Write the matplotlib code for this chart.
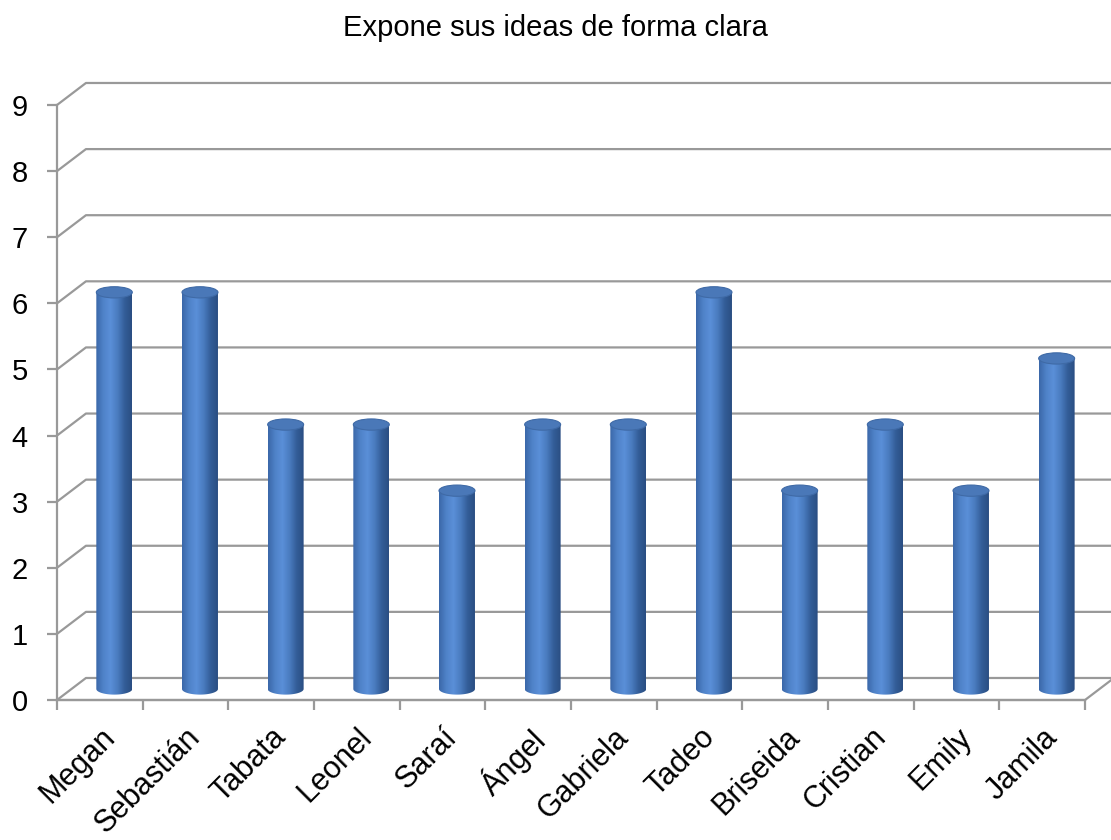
import numpy as np
import matplotlib.pyplot as plt
from matplotlib.patches import Ellipse, PathPatch
from matplotlib.path import Path
from matplotlib.colors import LinearSegmentedColormap

plt.rcParams['font.family'] = ['Liberation Sans', 'DejaVu Sans']

nombres = ['Megan', 'Sebastián', 'Tabata', 'Leonel', 'Saraí', 'Ángel', 'Gabriela',
           'Tadeo', 'Briseida', 'Cristian', 'Emily', 'Jamila']
valores = [6, 6, 4, 4, 3, 4, 4, 6, 3, 4, 3, 5]
y_ticks = list(range(0, 10))
titulo = 'Expone sus ideas de forma clara'

# desplazamiento de profundidad (pseudo 3D) en unidades de datos
dx, dy = 0.338, 0.333
gris = '#999999'

fig = plt.figure(figsize=(11.11, 8.4), dpi=100)
ax = fig.add_axes([57 / 1111, 140 / 840, 1028 / 1111, 595 / 840])
ax.set_xlim(0, len(nombres))
ax.set_ylim(0, 9)

# paredes: lineas de cuadricula con perspectiva
xr = len(nombres) + 0.5
for v in y_ticks:
    ax.plot([0, dx, xr], [v, v + dy, v + dy], color=gris, lw=1.6, clip_on=False, zorder=1)
# piso
n = len(nombres)
ax.plot([0, n, n + dx], [0, 0, dy], color=gris, lw=1.6, clip_on=False, zorder=1)

# cilindros
cmap = LinearSegmentedColormap.from_list('cil', ['#3a67a8', '#4f82c8', '#5a8fd8', '#4a7cc0', '#335d98', '#2a4e82'])
grad = np.linspace(0, 1, 256).reshape(1, -1)
w = 0.42
eh = 0.17
for i, v in enumerate(valores):
    cx = i + 0.5 + dx / 2
    y0 = dy / 2
    y1 = v + dy / 2
    # contorno: rectangulo con base eliptica
    t = np.linspace(np.pi, 2 * np.pi, 40)
    bx = cx + w / 2 * np.cos(t)
    by = y0 + eh / 2 * np.sin(t)
    verts = [(cx - w / 2, y1)] + list(zip(bx, by)) + [(cx + w / 2, y1), (cx - w / 2, y1)]
    codes = [Path.MOVETO] + [Path.LINETO] * (len(verts) - 2) + [Path.CLOSEPOLY]
    patch = PathPatch(Path(verts, codes), facecolor='none', edgecolor='none')
    ax.add_patch(patch)
    im = ax.imshow(grad, cmap=cmap, extent=[cx - w / 2, cx + w / 2, y0 - eh, y1],
                   aspect='auto', zorder=3, interpolation='bilinear')
    im.set_clip_path(patch)
    ax.add_patch(Ellipse((cx, y1), w, eh, facecolor='#4a78b8', edgecolor='#3f6aa6',
                         lw=0.8, zorder=4))

ax.set_xlim(0, len(nombres))
ax.set_ylim(0, 9)

for s in ['top', 'right']:
    ax.spines[s].set_visible(False)
for s in ['left', 'bottom']:
    ax.spines[s].set_color(gris)
    ax.spines[s].set_linewidth(1.6)

ax.set_yticks(y_ticks)
ax.set_xticks(np.arange(0, len(nombres) + 1))
ax.set_xticklabels([])
ax.set_xticks(np.arange(len(nombres)) + 0.5, minor=True)
ax.set_xticklabels(nombres, minor=True, rotation=45, ha='right', rotation_mode='anchor',
                   fontsize=22)
ax.tick_params(axis='x', which='minor', length=0, pad=16)
ax.tick_params(axis='x', which='major', length=7, width=1.6, color=gris)
ax.tick_params(axis='y', length=7, width=1.6, color=gris, labelsize=21, pad=14)

fig.text(0.5, 1 - 28 / 840, titulo, ha='center', va='center', fontsize=21)

fig.savefig('out.png', dpi=100)
